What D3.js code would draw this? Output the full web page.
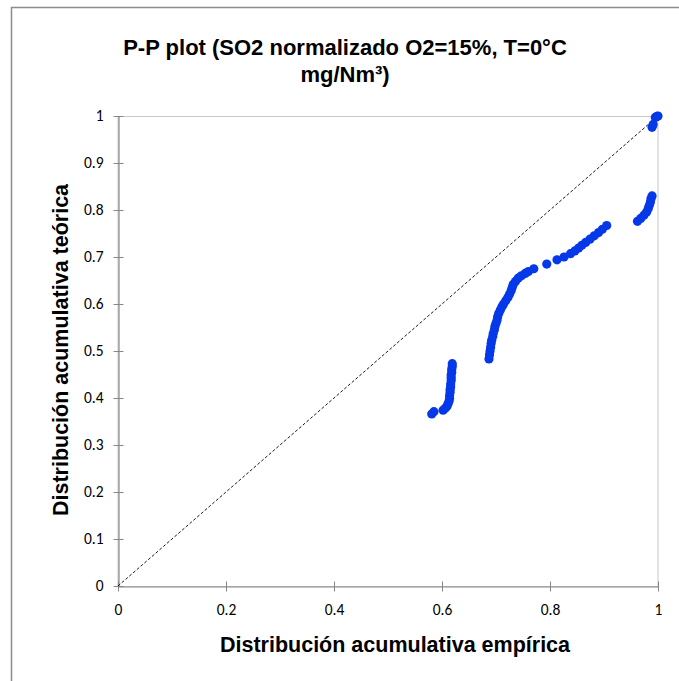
<!DOCTYPE html>
<html>
<head>
<meta charset="utf-8">
<script src="https://cdn.jsdelivr.net/npm/d3@7"></script>
<style>
  html, body { margin: 0; padding: 0; background: #fff; }
  svg { display: block; }
</style>
</head>
<body>
<svg id="chart" width="679" height="681"></svg>
<script>
// Empirical vs. theoretical cumulative probabilities
const empirica = [
  0.581, 0.585,
  0.602, 0.606, 0.609, 0.611, 0.613, 0.614, 0.614, 0.615, 0.615, 0.616, 0.616, 0.617, 0.617, 0.617, 0.618, 0.618, 0.619, 0.619,
  0.687, 0.688, 0.689, 0.690, 0.691, 0.692, 0.694, 0.695, 0.697, 0.698, 0.700, 0.702, 0.703, 0.705, 0.708, 0.711, 0.714, 0.718,
  0.722, 0.725, 0.728, 0.730, 0.732, 0.736, 0.741, 0.747, 0.754, 0.760, 0.770, 0.794, 0.813, 0.826, 0.838, 0.846, 0.853, 0.859,
  0.866, 0.874, 0.882, 0.890, 0.897, 0.905,
  0.962, 0.968, 0.974, 0.979, 0.982, 0.984, 0.986, 0.987, 0.989,
  0.989, 0.991, 0.995, 0.998, 1.000
];
const teorica = [
  0.366, 0.371,
  0.374, 0.378, 0.382, 0.387, 0.393, 0.399, 0.405, 0.412, 0.418, 0.424, 0.430, 0.437, 0.443, 0.449, 0.455, 0.461, 0.467, 0.473,
  0.483, 0.492, 0.500, 0.508, 0.516, 0.523, 0.531, 0.538, 0.545, 0.552, 0.559, 0.566, 0.573, 0.580, 0.587, 0.594, 0.600, 0.607,
  0.614, 0.621, 0.628, 0.635, 0.642, 0.648, 0.655, 0.660, 0.665, 0.669, 0.675, 0.685, 0.694, 0.700, 0.707, 0.713, 0.719, 0.725,
  0.731, 0.738, 0.745, 0.752, 0.759, 0.767,
  0.776, 0.782, 0.789, 0.796, 0.803, 0.810, 0.817, 0.824, 0.830,
  0.976, 0.982, 0.997, 0.999, 1.000
];
// Reference line y = x
const diagonal = [0, 1];
const xTicks = [0, 0.2, 0.4, 0.6, 0.8, 1];
const yTicks = [0, 0.1, 0.2, 0.3, 0.4, 0.5, 0.6, 0.7, 0.8, 0.9, 1];

const titleLines = ["P-P plot (SO2 normalizado O2=15%, T=0°C", "mg/Nm³)"];
const xTitle = "Distribución acumulativa empírica";
const yTitle = "Distribución acumulativa teórica";

const svg = d3.select("#chart");
const font = "'Liberation Sans', Arial, sans-serif";
const tickFont = "Carlito, Calibri, 'Open Sans', 'Liberation Sans', sans-serif";

// outer chart frame
svg.append("rect")
  .attr("x", 11.5).attr("y", 7.5)
  .attr("width", 700).attr("height", 700)
  .attr("fill", "#fff")
  .attr("stroke", "#8c8c8c").attr("stroke-width", 1.5);

const plotL = 118, plotR = 658, plotT = 116, plotB = 586;
const x = d3.scaleLinear().domain([0, 1]).range([plotL, plotR]);
const y = d3.scaleLinear().domain([0, 1]).range([plotB, plotT]);

// plot area border
svg.append("rect")
  .attr("x", plotL).attr("y", plotT + 0.5)
  .attr("width", plotR - plotL).attr("height", plotB - plotT)
  .attr("fill", "none")
  .attr("stroke", "#c8c8c8").attr("stroke-width", 1);

// axes
const xAxis = d3.axisBottom(x).tickValues(xTicks).tickFormat(d3.format("")).tickSizeInner(5).tickSizeOuter(0).tickPadding(8);
const yAxis = d3.axisLeft(y).tickValues(yTicks).tickFormat(d3.format("")).tickSizeInner(5).tickSizeOuter(0).tickPadding(8);

const gx = svg.append("g").attr("transform", `translate(0,${plotB + 0.5})`).call(xAxis);
const gy = svg.append("g").attr("transform", `translate(${plotL + 0.5},0)`).call(yAxis);

[gx, gy].forEach(g => {
  g.select(".domain").attr("stroke", "#868686").attr("stroke-width", 1.2);
  g.selectAll(".tick line").attr("stroke", "#868686");
  g.selectAll(".tick text").attr("font-family", tickFont).attr("font-size", 15.5).attr("fill", "#000");
});
gx.selectAll(".tick line").attr("y1", -5);
gy.selectAll(".tick line").attr("x1", 5);
gx.selectAll(".tick text").attr("dy", "1.02em");
gy.selectAll(".tick text").attr("x", -15);

// diagonal dashed line
svg.append("line")
  .attr("x1", x(diagonal[0])).attr("y1", y(diagonal[0]))
  .attr("x2", x(diagonal[1])).attr("y2", y(diagonal[1]))
  .attr("stroke", "#000").attr("stroke-width", 0.9)
  .attr("stroke-dasharray", "3,2");

// points
svg.append("g").selectAll("circle")
  .data(empirica.map((e, i) => [e, teorica[i]]))
  .join("circle")
  .attr("cx", d => x(d[0]))
  .attr("cy", d => y(d[1]))
  .attr("r", 4.6)
  .attr("fill", "#0538e8");

// title
svg.append("text")
  .attr("font-family", font).attr("font-weight", "bold")
  .attr("font-size", 22).attr("text-anchor", "middle").attr("fill", "#000")
  .selectAll("tspan").data(titleLines).join("tspan")
  .attr("x", 345).attr("y", (d, i) => 55 + i * 27)
  .text(d => d);

// axis titles
svg.append("text")
  .attr("x", 395).attr("y", 652)
  .attr("font-family", font).attr("font-weight", "bold").attr("font-size", 21.5)
  .attr("text-anchor", "middle").attr("fill", "#000")
  .text(xTitle);

svg.append("text")
  .attr("transform", `translate(68,350) rotate(-90)`)
  .attr("font-family", font).attr("font-weight", "bold").attr("font-size", 21.5)
  .attr("text-anchor", "middle").attr("fill", "#000")
  .text(yTitle);
</script>
</body>
</html>
